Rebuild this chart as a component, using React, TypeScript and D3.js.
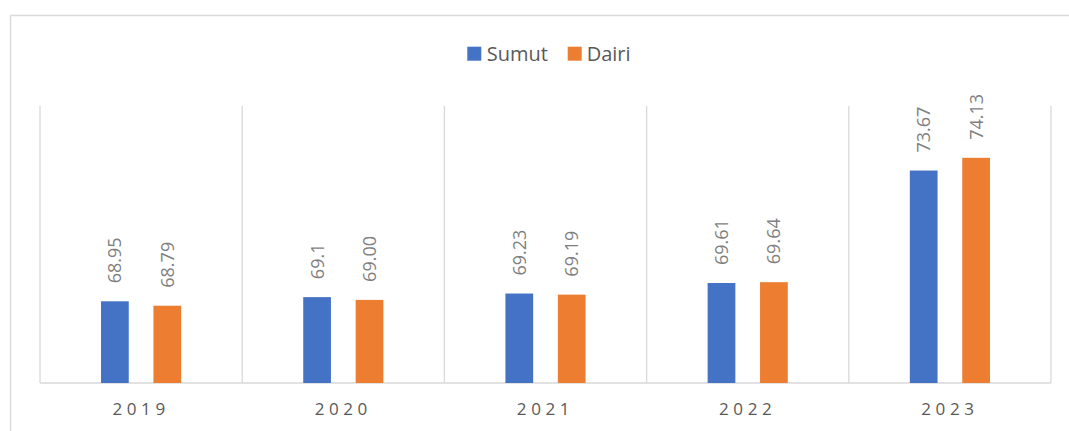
import React from 'react';
import * as d3 from 'd3';

const years = ['2019', '2020', '2021', '2022', '2023'];
const seriesNames = ['Sumut', 'Dairi'];
const sumut = [68.95, 69.1, 69.23, 69.61, 73.67];
const dairi = [68.79, 69.0, 69.19, 69.64, 74.13];
const labelsSumut = ['68.95', '69.1', '69.23', '69.61', '73.67'];
const labelsDairi = ['68.79', '69.00', '69.19', '69.64', '74.13'];
const colors = ['#4472C4', '#ED7D31'];

const W = 1069;
const H = 431;
const plot = { left: 40, right: 1051, top: 106, bottom: 383 };
const grid = '#d9d9d9';
const font = "'Open Sans', sans-serif";

const App = () => {
  const x0 = d3.scaleBand().domain(years).range([plot.left, plot.right]).padding(0);
  const x1 = d3
    .scaleBand()
    .domain(seriesNames)
    .range([0, x0.bandwidth()])
    .paddingInner(0.471)
    .paddingOuter(1.164);
  const y = d3.scaleLinear().domain([66, 76]).range([plot.bottom, plot.top]);

  const values = [sumut, dairi];
  const labels = [labelsSumut, labelsDairi];

  // boundaries between categories
  const bounds = years.map(d => x0(d)).concat([plot.right]);

  return (
    <svg width={W} height={H} style={{ position: 'absolute', left: 0, top: 0, background: '#fff' }}>
      {/* outer chart frame, cut off on right/bottom */}
      <line x1={10.5} x2={W} y1={15.5} y2={15.5} stroke={grid} strokeWidth={1.3} />
      <line x1={10.5} x2={10.5} y1={15.5} y2={H} stroke={grid} strokeWidth={1.3} />

      {/* vertical category gridlines */}
      {bounds.map((bx, i) => (
        <line key={'v' + i} x1={bx} x2={bx} y1={plot.top} y2={plot.bottom} stroke={grid} strokeWidth={1.3} />
      ))}
      <line x1={plot.left} x2={plot.right} y1={plot.bottom} y2={plot.bottom} stroke={grid} strokeWidth={1.3} />

      {/* bars */}
      {seriesNames.map((s, si) =>
        years.map((yr, i) => {
          const bx = x0(yr) + x1(s);
          const top = y(values[si][i]);
          return (
            <rect
              key={s + yr}
              x={bx}
              y={top}
              width={x1.bandwidth()}
              height={plot.bottom - top}
              fill={colors[si]}
            />
          );
        })
      )}

      {/* data labels */}
      {seriesNames.map((s, si) =>
        years.map((yr, i) => {
          const cx = x0(yr) + x1(s) + x1.bandwidth() / 2;
          const ty = y(values[si][i]) - 18;
          return (
            <text
              key={'l' + s + yr}
              transform={`translate(${cx},${ty}) rotate(-90)`}
              dy="0.36em"
              textAnchor="start"
              fontFamily={font}
              fontSize={18}
              fill="#7f7f7f"
            >
              {labels[si][i]}
            </text>
          );
        })
      )}

      {/* x axis labels */}
      {years.map(yr => (
        <text
          key={'x' + yr}
          x={x0(yr) + x0.bandwidth() / 2}
          y={415}
          textAnchor="middle"
          fontFamily={font}
          fontSize={17}
          letterSpacing={4.6}
          fill="#595959"
        >
          {yr}
        </text>
      ))}

      {/* legend */}
      <g transform="translate(467.3,46.7)">
        <rect x={0} y={0} width={14} height={14} fill={colors[0]} />
        <text x={19.5} y={14} fontFamily={font} fontSize={20} fill="#595959">
          {seriesNames[0]}
        </text>
        <rect x={100.4} y={0} width={14} height={14} fill={colors[1]} />
        <text x={119.4} y={14} fontFamily={font} fontSize={20} fill="#595959">
          {seriesNames[1]}
        </text>
      </g>
    </svg>
  );
};

export default App;
